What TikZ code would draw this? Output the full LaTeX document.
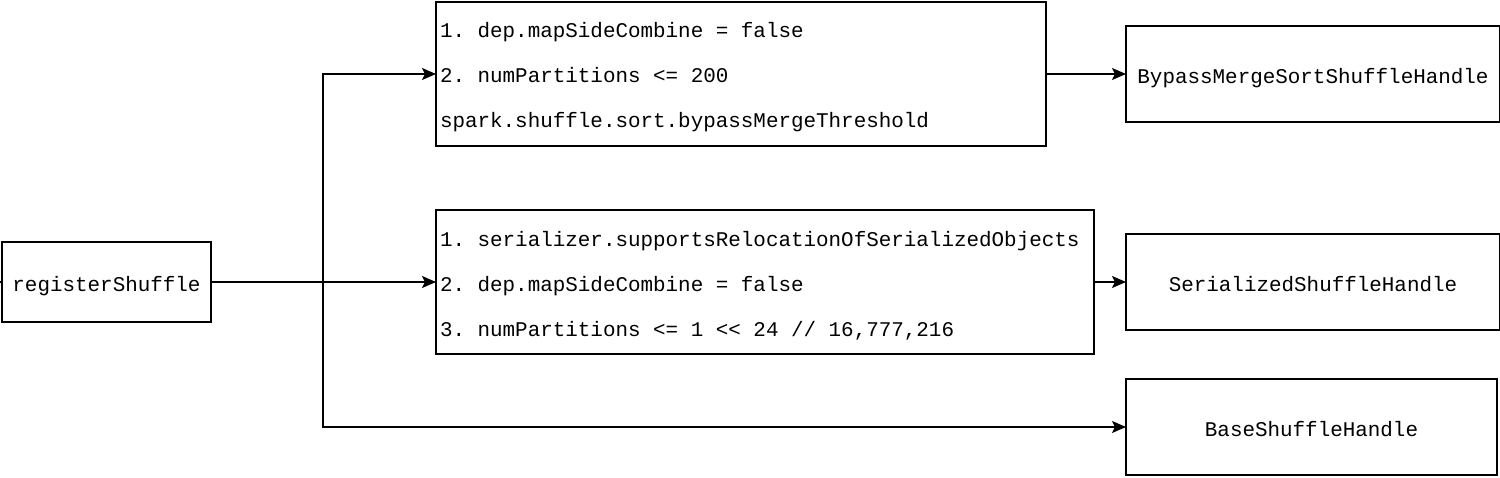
\documentclass[tikz,border=0pt]{standalone}
\usepackage{fontspec}
\setmonofont{Liberation Mono}
\usetikzlibrary{arrows.meta}
\ExplSyntaxOn
\NewDocumentCommand{\monoline}{m}{\str_map_inline:nn {#1} {\makebox[0.6em][c]{##1}}}
\ExplSyntaxOff
\tikzset{
  box/.style={draw,line width=1.5pt,inner sep=0pt,outer sep=0pt,font=\ttfamily\fontsize{20.9}{45}\selectfont},
  one/.style={box,text height=18.6pt,text depth=0pt},
  conn/.style={line width=1.5pt,->},
  >={Stealth[length=14pt,width=12pt,inset=3pt]}
}
\begin{document}
\begin{tikzpicture}[x=1pt,y=-1pt]
\useasboundingbox (0,0) rectangle (1500,478);
\node[one,minimum width=209,minimum height=80] (reg) at (106.5,282) {\monoline{registerShuffle}};
\node[box,minimum width=610,minimum height=144,align=left,text width=602] (c1) at (741,74)
  {\rule{0pt}{23pt}\monoline{1. dep.mapSideCombine = false}\\\monoline{2. numPartitions <= 200}\\\monoline{spark.shuffle.sort.bypassMergeThreshold}\rule[-5pt]{0pt}{5pt}};
\node[box,minimum width=658,minimum height=144,align=left,text width=650] (c2) at (765,282)
  {\rule{0pt}{24.5pt}\monoline{1. serializer.supportsRelocationOfSerializedObjects}\\\monoline{2. dep.mapSideCombine = false}\\\monoline{3. numPartitions <= 1 << 24 // 16,777,216}\rule[-5pt]{0pt}{5pt}};
\node[one,minimum width=374,minimum height=96] (bypass) at (1313,74) {\monoline{BypassMergeSortShuffleHandle}};
\node[one,minimum width=374,minimum height=96] (ser) at (1313,282) {\monoline{SerializedShuffleHandle}};
\node[one,minimum width=371,minimum height=96] (base) at (1311.5,427) {\monoline{BaseShuffleHandle}};
\coordinate (split) at (323,282);
\coordinate (stub) at (-2,282);
\draw[line width=1.5pt] (stub) -- (reg.west);
\draw[conn] (reg.east) -- (c2.west);
\draw[conn] (split) |- (c1.west);
\draw[conn] (split) |- (base.west);
\draw[conn] (c1.east) -- (bypass.west);
\draw[conn] (c2.east) -- (ser.west);
\end{tikzpicture}
\end{document}
